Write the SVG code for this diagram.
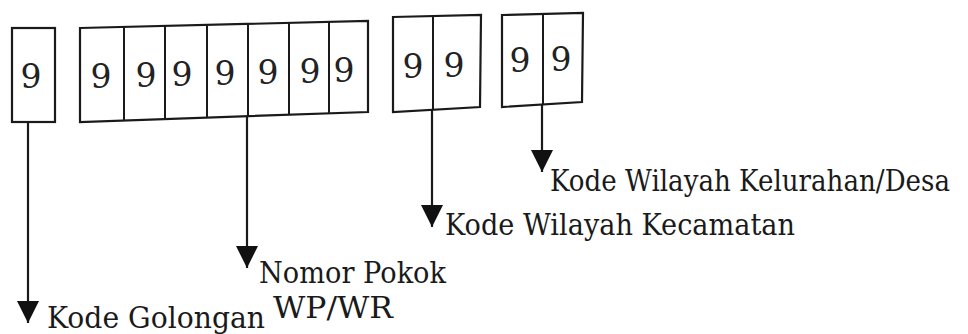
<svg xmlns="http://www.w3.org/2000/svg" width="968" height="334" viewBox="0 0 968 334">
<style>
.box{fill:none;stroke:#1a1a1a;stroke-width:2.2;stroke-linejoin:miter}
.div{stroke:#1a1a1a;stroke-width:2}
.dig{font-family:'DejaVu Serif','Liberation Serif','Times New Roman',serif;font-size:33px;fill:#222;text-anchor:middle}
.lbl{font-family:'DejaVu Serif','Liberation Serif','Times New Roman',serif;font-size:30px;fill:#1a1a1a}
.con{stroke:#1a1a1a;stroke-width:2.2;fill:none}
</style>
<defs>
<marker id="ah" markerUnits="userSpaceOnUse" markerWidth="24" markerHeight="24" refX="22" refY="11" orient="auto">
<path d="M0,0 L22,11 L0,22 z" fill="#111"/>
</marker>
</defs>
<rect width="968" height="334" fill="#ffffff"/>
<g id="box-golongan">
<rect class="box" x="12" y="28" width="43" height="94"/>
<text class="dig" x="31" y="88">9</text>
</g>
<g id="box-nomor">
<polygon class="box" points="80,28 368,21 368,112 80,122"/>
<line class="div" x1="124" y1="26.9" x2="124" y2="120.5"/>
<line class="div" x1="165" y1="25.9" x2="165" y2="119"/>
<line class="div" x1="207" y1="24.9" x2="207" y2="117.6"/>
<line class="div" x1="248" y1="23.9" x2="248" y2="116.2"/>
<line class="div" x1="289" y1="22.9" x2="289" y2="114.7"/>
<line class="div" x1="329" y1="21.9" x2="329" y2="113.4"/>
<text class="dig" x="101" y="88">9</text>
<text class="dig" x="146" y="87">9</text>
<text class="dig" x="182" y="86">9</text>
<text class="dig" x="225" y="85">9</text>
<text class="dig" x="268" y="84">9</text>
<text class="dig" x="310" y="83">9</text>
<text class="dig" x="344" y="82">9</text>
</g>
<g id="box-kecamatan">
<polygon class="box" points="393,17 481,15 480,107 393,112"/>
<line class="div" x1="433" y1="16" x2="433" y2="110"/>
<text class="dig" x="413" y="78">9</text>
<text class="dig" x="454" y="77">9</text>
</g>
<g id="box-kelurahan">
<polygon class="box" points="502,15 583,13 582,102 502,107"/>
<line class="div" x1="543" y1="14" x2="543" y2="104.5"/>
<text class="dig" x="520" y="72">9</text>
<text class="dig" x="561" y="71">9</text>
</g>
<g id="connectors">
<line class="con" x1="28" y1="122" x2="28" y2="323" marker-end="url(#ah)"/>
<line class="con" x1="247" y1="116" x2="247" y2="268" marker-end="url(#ah)"/>
<line class="con" x1="432" y1="110" x2="432" y2="227" marker-end="url(#ah)"/>
<line class="con" x1="542" y1="104" x2="542" y2="172" marker-end="url(#ah)"/>
</g>
<g id="label-kelurahan">
<text class="lbl" x="550" y="191" textLength="400" lengthAdjust="spacingAndGlyphs">Kode Wilayah Kelurahan/Desa</text>
</g>
<g id="label-kecamatan">
<text class="lbl" x="445" y="235" textLength="350" lengthAdjust="spacingAndGlyphs">Kode Wilayah Kecamatan</text>
</g>
<g id="label-nomor">
<text class="lbl" x="259" y="283" textLength="187" lengthAdjust="spacingAndGlyphs">Nomor Pokok</text>
</g>
<g id="label-golongan">
<text class="lbl" x="47" y="328" textLength="218" lengthAdjust="spacingAndGlyphs">Kode Golongan</text>
<text class="lbl" x="273" y="318" textLength="120" lengthAdjust="spacingAndGlyphs">WP/WR</text>
</g>
</svg>
